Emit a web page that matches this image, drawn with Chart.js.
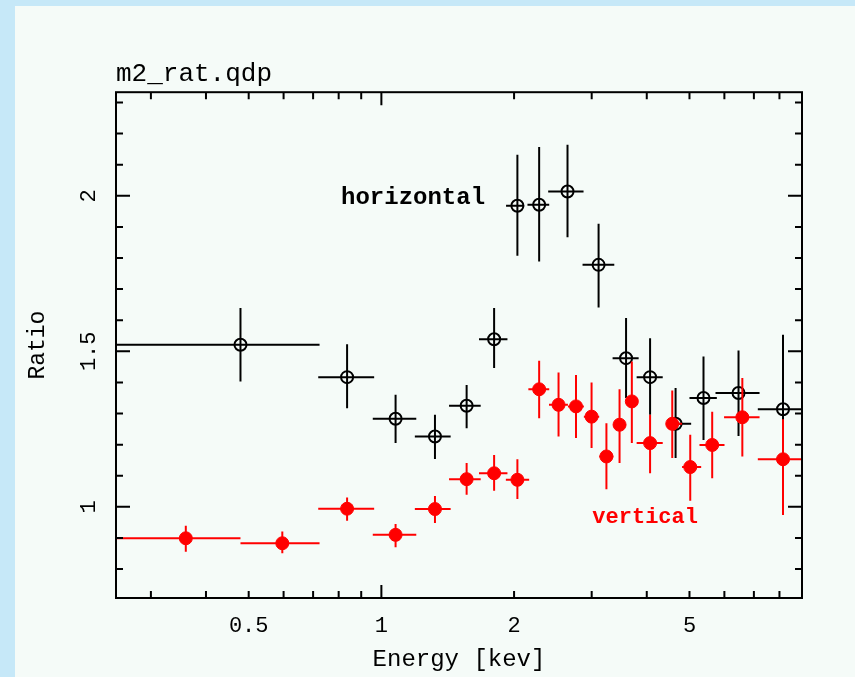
<!DOCTYPE html>
<html>
<head>
<meta charset="utf-8">
<title>m2_rat.qdp</title>
<script src="https://cdn.jsdelivr.net/npm/chart.js@4.4.1/dist/chart.umd.min.js"></script>
<style>
  html, body { margin: 0; padding: 0; }
  body { width: 855px; height: 677px; background: #c6e8f8; position: relative; overflow: hidden; }
  #panel { position: absolute; left: 15px; top: 6px; right: 0; bottom: 0; background: #f5fbf8; }
  #wrap { position: absolute; left: 0; top: 0; width: 855px; height: 677px; }
</style>
</head>
<body>
<div id="panel"></div>
<div id="wrap"><canvas id="ratioChart"></canvas></div>
<script>
// ---- data ----
// "horizontal" (black, open circles)
var hEnergy   = [0.479, 0.836, 1.077, 1.323, 1.561, 1.802, 2.035, 2.28, 2.644, 3.11, 3.59, 4.07, 4.65, 5.38, 6.46, 8.15];
var hEnergyLo = [0.234, 0.719, 0.956, 1.191, 1.424, 1.665, 1.918, 2.145, 2.39, 2.86, 3.346, 3.794, 4.425, 5.0, 5.728, 7.145];
var hEnergyHi = [0.724, 0.963, 1.20, 1.436, 1.68, 1.932, 2.108, 2.403, 2.875, 3.376, 3.834, 4.348, 5.044, 5.768, 7.21, 9.3];
var hRatio    = [1.521, 1.417, 1.283, 1.226, 1.325, 1.539, 1.968, 1.971, 2.014, 1.778, 1.478, 1.417, 1.267, 1.350, 1.366, 1.314];
var hRatioLo  = [1.403, 1.317, 1.205, 1.154, 1.253, 1.446, 1.807, 1.789, 1.867, 1.641, 1.350, 1.296, 1.157, 1.215, 1.228, 1.075];
var hRatioHi  = [1.639, 1.523, 1.360, 1.296, 1.392, 1.639, 2.132, 2.157, 2.164, 1.910, 1.607, 1.542, 1.382, 1.483, 1.503, 1.553];

// "vertical" (red, filled circles)
var vEnergy   = [0.360, 0.596, 0.836, 1.077, 1.323, 1.561, 1.802, 2.035, 2.28, 2.523, 2.764, 2.998, 3.24, 3.47, 3.70, 4.07, 4.57, 5.02, 5.63, 6.59, 8.15];
var vEnergyLo = [0.241, 0.479, 0.719, 0.956, 1.191, 1.424, 1.665, 1.916, 2.155, 2.40, 2.65, 2.88, 3.12, 3.36, 3.59, 3.794, 4.425, 4.81, 5.268, 5.99, 7.145];
var vEnergyHi = [0.479, 0.724, 0.963, 1.20, 1.436, 1.68, 1.932, 2.164, 2.403, 2.65, 2.88, 3.12, 3.36, 3.59, 3.81, 4.348, 4.81, 5.315, 6.004, 7.21, 9.3];
var vRatio    = [0.899, 0.883, 0.994, 0.910, 0.993, 1.089, 1.108, 1.087, 1.378, 1.328, 1.323, 1.290, 1.162, 1.264, 1.339, 1.205, 1.267, 1.128, 1.199, 1.288, 1.153];
var vRatioLo  = [0.856, 0.851, 0.955, 0.870, 0.948, 1.039, 1.052, 1.025, 1.285, 1.226, 1.221, 1.189, 1.057, 1.141, 1.205, 1.108, 1.157, 1.020, 1.092, 1.162, 0.974];
var vRatioHi  = [0.939, 0.921, 1.030, 0.945, 1.035, 1.141, 1.167, 1.153, 1.470, 1.432, 1.424, 1.400, 1.269, 1.378, 1.467, 1.296, 1.374, 1.232, 1.306, 1.414, 1.282];

// axis ticks
var xTickLabels = [0.5, 1, 2, 5];
var xMajorTicks = [1];
var xMinorTicks = [0.3, 0.4, 0.5, 0.6, 0.7, 0.8, 0.9, 2, 3, 4, 5, 6, 7, 8, 9];
var yTickLabels = [1, 1.5, 2];
var yMajorTicks = [1, 1.5, 2];
var yMinorTicks = [0.8, 0.9, 1.1, 1.2, 1.3, 1.4, 1.6, 1.7, 1.8, 1.9, 2.1, 2.2, 2.3];

// text labels inside the plot
var noteText   = ['horizontal', 'vertical'];
var noteEnergy = [0.81, 3.01];
var noteRatio  = [1.994, 0.965];
var noteColor  = ['#000000', '#ff0000'];
var noteSize   = [24, 22];

var FONT = "'Liberation Mono', 'DejaVu Sans Mono', monospace";
Chart.defaults.font.family = FONT;
Chart.defaults.color = '#000';

function toPoints(xs, ys) {
  return xs.map(function(x, i) { return { x: x, y: ys[i] }; });
}

// error bars + frame + inward ticks, qdp style
var qdpPlugin = {
  id: 'qdp',
  beforeDatasetDraw: function(chart, args) {
    var ds = chart.data.datasets[args.index];
    if (!ds.errX) return;
    var ctx = chart.ctx, xs = chart.scales.x, ys = chart.scales.y, a = chart.chartArea;
    ctx.save();
    ctx.beginPath();
    ctx.rect(a.left, a.top, a.right - a.left, a.bottom - a.top);
    ctx.clip();
    ctx.strokeStyle = ds.borderColor;
    ctx.lineWidth = 2;
    ds.data.forEach(function(p, i) {
      var px = xs.getPixelForValue(p.x), py = ys.getPixelForValue(p.y);
      ctx.beginPath();
      ctx.moveTo(xs.getPixelForValue(ds.errX[0][i]), py);
      ctx.lineTo(xs.getPixelForValue(ds.errX[1][i]), py);
      ctx.moveTo(px, ys.getPixelForValue(ds.errY[0][i]));
      ctx.lineTo(px, ys.getPixelForValue(ds.errY[1][i]));
      ctx.stroke();
    });
    ctx.restore();
  },
  afterDraw: function(chart) {
    var ctx = chart.ctx, xs = chart.scales.x, ys = chart.scales.y, a = chart.chartArea;
    ctx.save();
    ctx.strokeStyle = '#000';
    ctx.lineWidth = 2;
    ctx.strokeRect(a.left, a.top, a.right - a.left, a.bottom - a.top);

    function xTick(v, len) {
      var px = xs.getPixelForValue(v);
      ctx.beginPath();
      ctx.moveTo(px, a.bottom); ctx.lineTo(px, a.bottom - len);
      ctx.moveTo(px, a.top); ctx.lineTo(px, a.top + len);
      ctx.stroke();
    }
    function yTick(v, len) {
      var py = ys.getPixelForValue(v);
      ctx.beginPath();
      ctx.moveTo(a.left, py); ctx.lineTo(a.left + len, py);
      ctx.moveTo(a.right, py); ctx.lineTo(a.right - len, py);
      ctx.stroke();
    }
    xMinorTicks.forEach(function(v) { xTick(v, 7); });
    xMajorTicks.forEach(function(v) { xTick(v, 13); });
    yMinorTicks.forEach(function(v) { yTick(v, 7); });
    yMajorTicks.forEach(function(v) { yTick(v, 14); });

    // rotated y tick labels
    ctx.fillStyle = '#000';
    ctx.font = '22px ' + FONT;
    ctx.textAlign = 'center';
    ctx.textBaseline = 'middle';
    yTickLabels.forEach(function(v) {
      ctx.save();
      ctx.translate(89, ys.getPixelForValue(v));
      ctx.rotate(-Math.PI / 2);
      ctx.fillText(String(v), 0, 0);
      ctx.restore();
    });

    // in-plot labels
    ctx.textAlign = 'left';
    noteText.forEach(function(t, i) {
      ctx.font = 'bold ' + noteSize[i] + 'px ' + FONT;
      ctx.fillStyle = noteColor[i];
      ctx.fillText(t, xs.getPixelForValue(noteEnergy[i]), ys.getPixelForValue(noteRatio[i]));
    });
    ctx.restore();
  }
};

var ctx = document.getElementById('ratioChart').getContext('2d');
var ratioChart = new Chart(ctx, {
  type: 'scatter',
  data: {
    datasets: [
      {
        label: 'horizontal',
        data: toPoints(hEnergy, hRatio),
        errX: [hEnergyLo, hEnergyHi],
        errY: [hRatioLo, hRatioHi],
        borderColor: '#000000',
        backgroundColor: 'rgba(0,0,0,0)',
        pointRadius: 6,
        pointBorderWidth: 2,
        order: 1
      },
      {
        label: 'vertical',
        data: toPoints(vEnergy, vRatio),
        errX: [vEnergyLo, vEnergyHi],
        errY: [vRatioLo, vRatioHi],
        borderColor: '#ff0000',
        backgroundColor: '#ff0000',
        pointRadius: 6.5,
        pointBorderWidth: 1,
        order: 0
      }
    ]
  },
  options: {
    responsive: true,
    maintainAspectRatio: false,
    animation: false,
    devicePixelRatio: 1,
    layout: { padding: { top: 59, left: 0, right: 53, bottom: 0 } },
    scales: {
      x: {
        type: 'logarithmic',
        min: 0.25,
        max: 9,
        afterBuildTicks: function(scale) {
          scale.ticks = xTickLabels.map(function(v) { return { value: v }; });
        },
        afterFit: function(scale) { scale.height = 79; },
        grid: { display: false },
        border: { display: false },
        ticks: {
          autoSkip: false, maxRotation: 0, minRotation: 0, padding: 7,
          font: { size: 22 }, color: '#000',
          callback: function(v) { return String(v); }
        },
        title: { display: true, text: 'Energy [kev]', color: '#000', font: { size: 24 }, padding: { top: 0, bottom: 3 } }
      },
      y: {
        type: 'linear',
        min: 0.707,
        max: 2.333,
        afterFit: function(scale) { scale.width = 116; },
        grid: { display: false },
        border: { display: false },
        ticks: { display: false },
        title: { display: true, text: 'Ratio', color: '#000', font: { size: 23 }, padding: { top: 24, bottom: 0 } }
      }
    },
    plugins: {
      legend: { display: false },
      tooltip: { enabled: false },
      title: {
        display: true,
        text: 'm2_rat.qdp',
        align: 'start',
        fullSize: false,
        color: '#000',
        font: { size: 26, weight: 'normal' },
        padding: { top: 0, bottom: 2 }
      }
    }
  },
  plugins: [qdpPlugin]
});
</script>
</body>
</html>
